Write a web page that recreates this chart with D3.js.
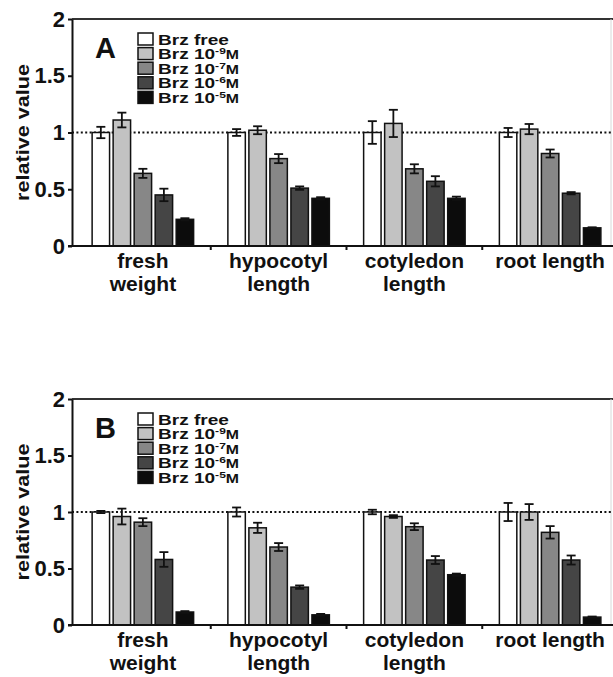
<!DOCTYPE html>
<html>
<head>
<meta charset="utf-8">
<script src="https://cdn.jsdelivr.net/npm/d3@7"></script>
<style>
  body { margin: 0; background: #fff; }
  svg { display: block; font-family: "Liberation Sans", Arial, Helvetica, sans-serif; font-weight: bold; }
</style>
</head>
<body>
<div id="chart"></div>
<script>
// groups on the x axis, split into label lines
const groups = ["fresh weight", "hypocotyl length", "cotyledon length", "root length"];
const groupLines = [["fresh", "weight"], ["hypocotyl", "length"], ["cotyledon", "length"], ["root length"]];

// Brz treatments
const series = ["free", "1e-9", "1e-7", "1e-6", "1e-5"];
const seriesExp = ["", "-9", "-7", "-6", "-5"];
const seriesColors = ["#ffffff", "#c2c2c2", "#878787", "#454545", "#0c0c0c"];

// panel A: mean and error per group (rows) and treatment (cols)
const aValues = [
    [1.00, 1.11, 0.64, 0.45, 0.235],
    [1.00, 1.02, 0.77, 0.51, 0.42],
    [1.00, 1.08, 0.68, 0.57, 0.42],
    [1.00, 1.03, 0.815, 0.465, 0.16]
];
const aErrors = [
    [0.05, 0.065, 0.04, 0.055, 0.01],
    [0.03, 0.035, 0.04, 0.015, 0.01],
    [0.10, 0.12, 0.04, 0.045, 0.015],
    [0.04, 0.045, 0.035, 0.01, 0.005]
];

// panel B
const bValues = [
    [1.00, 0.96, 0.91, 0.58, 0.115],
    [1.00, 0.86, 0.69, 0.335, 0.09],
    [1.00, 0.96, 0.87, 0.575, 0.445],
    [1.00, 1.00, 0.82, 0.575, 0.07]
];
const bErrors = [
    [0.01, 0.07, 0.035, 0.065, 0.008],
    [0.04, 0.045, 0.035, 0.015, 0.008],
    [0.02, 0.012, 0.03, 0.035, 0.01],
    [0.08, 0.07, 0.055, 0.04, 0.005]
];

const yTicks = [0, 0.5, 1, 1.5, 2];

const w = 613;
const h = 677;
const left = 72;
const ink = "#111";

const svg = d3.select("#chart")
    .append("svg")
    .attr("width", w)
    .attr("height", h);

const x = d3.scaleBand()
    .domain(groups)
    .range([75, 618]);

const xInner = d3.scaleBand()
    .domain(series)
    .range([0, x.bandwidth()])
    .paddingInner(0.17)
    .paddingOuter(0.815);

function drawPanel(top, bottom, letter, values, errors) {
    const y = d3.scaleLinear()
        .domain([0, 2])
        .range([bottom, top]);

    const g = svg.append("g");

    // top border and faint right edge
    g.append("line")
        .attr("x1", left).attr("x2", w)
        .attr("y1", top).attr("y2", top)
        .attr("stroke", "#333").attr("stroke-width", 2);
    g.append("line")
        .attr("x1", w - 2).attr("x2", w - 2)
        .attr("y1", top).attr("y2", bottom)
        .attr("stroke", "#d8d8d8").attr("stroke-width", 1);

    // dotted reference at 1
    g.append("line")
        .attr("x1", left).attr("x2", w)
        .attr("y1", y(1)).attr("y2", y(1))
        .attr("stroke", ink)
        .attr("stroke-width", 1.8)
        .attr("stroke-dasharray", "2,2.4");

    // bars
    groups.forEach((grp, gi) => {
        const bg = g.append("g").attr("transform", "translate(" + x(grp) + ",0)");

        bg.selectAll("rect")
            .data(values[gi])
            .enter()
            .append("rect")
            .attr("x", (d, i) => xInner(series[i]))
            .attr("width", xInner.bandwidth())
            .attr("y", d => y(d))
            .attr("height", d => bottom - y(d))
            .attr("fill", (d, i) => seriesColors[i])
            .attr("stroke", ink)
            .attr("stroke-width", 1.5);

        const eb = bg.selectAll("g.err")
            .data(values[gi])
            .enter()
            .append("g")
            .attr("class", "err")
            .attr("stroke", ink)
            .attr("stroke-width", 1.8);

        const cx = (d, i) => xInner(series[i]) + xInner.bandwidth() / 2;

        eb.append("line")
            .attr("x1", cx).attr("x2", cx)
            .attr("y1", (d, i) => y(d + errors[gi][i]))
            .attr("y2", (d, i) => y(d - errors[gi][i]));
        eb.append("line")
            .attr("x1", (d, i) => cx(d, i) - 4.5).attr("x2", (d, i) => cx(d, i) + 4.5)
            .attr("y1", (d, i) => y(d + errors[gi][i]))
            .attr("y2", (d, i) => y(d + errors[gi][i]));
        eb.append("line")
            .attr("x1", (d, i) => cx(d, i) - 4.5).attr("x2", (d, i) => cx(d, i) + 4.5)
            .attr("y1", (d, i) => y(d - errors[gi][i]))
            .attr("y2", (d, i) => y(d - errors[gi][i]));
    });

    // y axis
    const yAxis = d3.axisLeft(y)
        .tickValues(yTicks)
        .tickSize(4)
        .tickSizeOuter(0)
        .tickPadding(3)
        .tickFormat(d => String(d));

    const ya = g.append("g")
        .attr("transform", "translate(" + left + ",0)")
        .call(yAxis);
    ya.select(".domain").attr("stroke", ink).attr("stroke-width", 2);
    ya.selectAll(".tick line").attr("stroke", ink).attr("stroke-width", 2);
    ya.selectAll(".tick text")
        .attr("fill", ink)
        .style("font-size", "22px")
        .style("font-weight", "bold")
        .style("font-family", "\"Liberation Sans\", Arial, sans-serif");

    // bottom axis line with ticks between groups
    g.append("line")
        .attr("x1", left - 4).attr("x2", w)
        .attr("y1", bottom).attr("y2", bottom)
        .attr("stroke", ink).attr("stroke-width", 2);
    g.selectAll("line.gtick")
        .data(groups.slice(1))
        .enter()
        .append("line")
        .attr("class", "gtick")
        .attr("x1", d => x(d)).attr("x2", d => x(d))
        .attr("y1", bottom).attr("y2", bottom + 4)
        .attr("stroke", ink).attr("stroke-width", 2);

    // group labels
    groups.forEach((grp, gi) => {
        const t = g.append("text")
            .attr("text-anchor", "middle")
            .attr("fill", ink)
            .style("font-size", "21px");
        groupLines[gi].forEach((line, li) => {
            t.append("tspan")
                .attr("x", x(grp) + x.bandwidth() / 2)
                .attr("y", bottom + 22 + li * 23)
                .text(line);
        });
    });

    // y label
    g.append("text")
        .attr("transform", "translate(29," + ((top + bottom) / 2) + ") rotate(-90) scale(1.2,1)")
        .attr("text-anchor", "middle")
        .attr("fill", ink)
        .style("font-size", "18px")
        .text("relative value");

    // panel letter
    g.append("text")
        .attr("x", 95)
        .attr("y", top + 39)
        .attr("fill", ink)
        .style("font-size", "29px")
        .text(letter);

    // legend
    const leg = g.append("g").attr("transform", "translate(138," + (top + 14) + ")");
    const rows = leg.selectAll("g")
        .data(series)
        .enter()
        .append("g")
        .attr("transform", (d, i) => "translate(0," + (i * 14.6) + ")");
    rows.append("rect")
        .attr("width", 15)
        .attr("height", 12)
        .attr("fill", (d, i) => seriesColors[i])
        .attr("stroke", ink)
        .attr("stroke-width", 1.5);
    const lt = rows.append("text")
        .attr("transform", "translate(20,11.5) scale(1.27,1)")
        .attr("fill", ink)
        .style("font-size", "15px");
    lt.append("tspan").text((d, i) => i === 0 ? "Brz free" : "Brz 10");
    lt.append("tspan")
        .attr("dy", -5)
        .style("font-size", "9.5px")
        .text((d, i) => seriesExp[i]);
    lt.append("tspan")
        .attr("dy", 5)
        .style("font-size", "12.5px")
        .text((d, i) => i === 0 ? "" : "M");
}

drawPanel(19, 246, "A", aValues, aErrors);
drawPanel(399, 625, "B", bValues, bErrors);
</script>
</body>
</html>
